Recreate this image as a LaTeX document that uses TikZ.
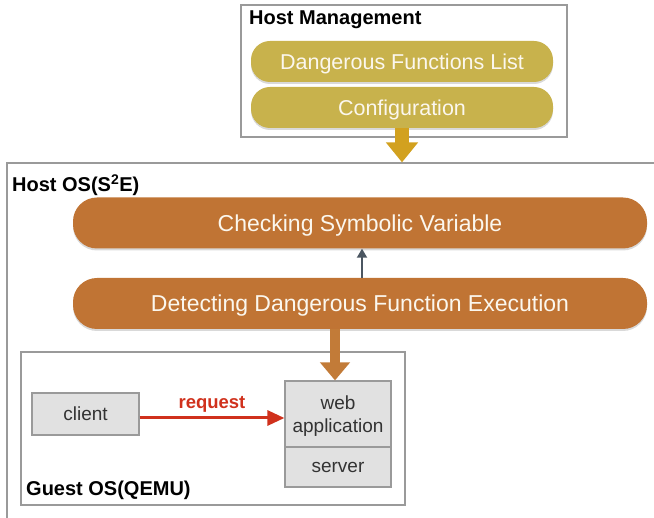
\documentclass[tikz,border=0pt]{standalone}
\usepackage{fontspec}
\setmainfont{Liberation Sans}
\usetikzlibrary{shadows,arrows.meta}
\definecolor{gold}{HTML}{C8B24C}
\definecolor{goldarrow}{HTML}{D2A11F}
\definecolor{rust}{HTML}{C07434}
\definecolor{rustarrow}{HTML}{C27B38}
\definecolor{boxline}{HTML}{9A9A9A}
\definecolor{boxfill}{HTML}{E1E1E1}
\definecolor{reqred}{HTML}{D0311C}
\definecolor{slate}{HTML}{4B5661}
\definecolor{pilltext}{HTML}{FBF7EE}
\begin{document}
\begin{tikzpicture}[x=1pt,y=-1pt,
  frame/.style={draw=boxline, line width=1.2pt, rectangle, inner sep=0pt},
  framelabel/.style={anchor=west, inner sep=0pt, font=\fontsize{20}{22}\selectfont\bfseries},
  goldpill/.style={rectangle, fill=gold, rounded corners=19pt, minimum width=302pt, minimum height=41pt,
    text=pilltext, font=\fontsize{21.5}{24}\selectfont, inner sep=0pt, text depth=0pt,
    drop shadow={shadow xshift=0pt, shadow yshift=-2pt, opacity=0.3}},
  rustpill/.style={rectangle, fill=rust, rounded corners=24pt, minimum width=574pt, minimum height=51pt,
    text=pilltext, font=\fontsize{23}{26}\selectfont, inner sep=0pt, text depth=0pt,
    drop shadow={shadow xshift=0pt, shadow yshift=-2pt, opacity=0.3}},
  graybox/.style={rectangle, draw=boxline, line width=1.2pt, fill=boxfill, inner sep=0pt,
    font=\fontsize{19}{23}\selectfont, text=black!80, align=center}
]
\useasboundingbox (0,0) rectangle (654,518);
\clip (0,0) rectangle (654,518);

% Host Management
\node[frame, minimum width=326pt, minimum height=132pt] (hm) at (404,71) {};
\node[framelabel] (hmlabel) at (249,20) {Host Management};
\node[goldpill] (dfl) at (402,61.5) {Dangerous Functions List};
\node[goldpill] (conf) at (402,107.5) {Configuration};

% Host OS
\node[frame, minimum width=657pt, minimum height=367pt] (hostos) at (335.5,346.5) {};
\node[framelabel] (hostlabel) at (12,185) {Host OS(S\textsuperscript{2}E)};
\node[rustpill] (csv) at (360,223) {Checking Symbolic Variable};
\node[rustpill] (dde) at (360,303.5) {Detecting Dangerous Function Execution};

% Guest OS
\node[frame, minimum width=384pt, minimum height=153pt] (guest) at (213,428.5) {};
\node[framelabel] (guestlabel) at (26,490) {Guest OS(QEMU)};
\node[graybox, minimum width=107pt, minimum height=42pt, text depth=0pt] (client) at (85.5,414) {client};
\node[graybox, minimum width=106pt, minimum height=66pt, text depth=0pt] (web) at (338,414) {web\\application};
\node[graybox, minimum width=106pt, minimum height=40pt, text depth=0pt] (server) at (338,467) {server};

% connectors
\draw[goldarrow, line width=14pt, -{Triangle[width=31pt,length=20pt]}]
  (conf.south) -- (conf.south |- hostos.north);
\draw[slate, line width=2pt, -{Triangle[width=10pt,length=9pt]}]
  ([xshift=2pt]dde.north) -- ([xshift=2pt]csv.south);
\draw[rustarrow, line width=10pt, -{Triangle[width=29pt,length=18pt]}]
  (dde.south -| 335,0) -- (web.north -| 335,0);
\draw[reqred, line width=3pt, -{Triangle[width=15pt,length=17pt]}]
  ([yshift=-4pt]client.east) -- ([yshift=-4pt]web.west)
  node[midway, above=4pt, inner sep=0pt, font=\fontsize{18.5}{22}\selectfont\bfseries, text=reqred] (req) {request};
\end{tikzpicture}
\end{document}
